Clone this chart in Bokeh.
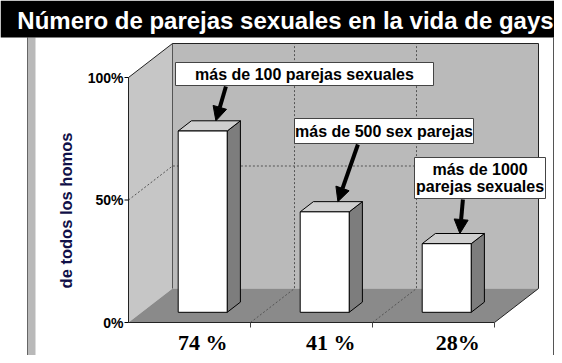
import math
from bokeh.plotting import figure
from bokeh.models import Range1d, Arrow, NormalHead
from bokeh.core.properties import value
from bokeh.embed import file_html
from bokeh.resources import INLINE

# ---------------- data ----------------
TITLE = "Número de parejas sexuales en la vida de gays"
Y_LABEL = "de todos los homos"
categories = ["74 %", "41 %", "28%"]
values = [74, 41, 28]
y_ticks = [0, 50, 100]
y_tick_labels = ["0%", "50%", "100%"]
notes = ["más de 100 parejas sexuales", "más de 500 sex parejas", "más de 1000\nparejas sexuales"]

# ---------------- layout (pixels) ----------------
W, H = 554, 355
OX, OY = 128, 322          # px of front-left floor corner
PX_CAT = 122               # px per category
PX_PCT = 2.45              # px per percent
DEPTH_PX = (44, 34)
BAR_W_PX = 49
BAR_DEPTH = (0.3, 0.6)
NOTE_BOXES = [(175, 62, 433, 85), (294, 118, 473, 143), (414, 157, 545, 198)]
ARROW_DX = [10, 20, 3]
CAT_LABEL_DX = [0, 6, 11]
FONT = value("Liberation Sans")
SERIF = value("Liberation Serif")


def X(wx):
    return (wx - OX) / PX_CAT


def Y(wy):
    return (OY - wy) / PX_PCT


dX = DEPTH_PX[0] / PX_CAT
dY = DEPTH_PX[1] / PX_PCT
n = len(categories)
ymax = max(y_ticks)

p = figure(width=W, height=H, x_range=Range1d(X(0), X(W)), y_range=Range1d(Y(H), Y(0)),
           output_backend="svg", toolbar_location=None, min_border=0)
p.axis.visible = False
p.grid.visible = False
p.outline_line_color = None
p.background_fill_color = "white"
p.border_fill_color = "white"

# outer frame
p.quad(left=[X(27)], right=[X(35)], top=[Y(37)], bottom=[Y(360)], fill_color="#b9b9b9", line_color=None)
p.segment(x0=[X(27)], y0=[Y(37)], x1=[X(27)], y1=[Y(360)], line_color="#666666", line_width=1)
p.segment(x0=[X(553)], y0=[Y(37)], x1=[X(553)], y1=[Y(360)], line_color="#555555", line_width=1)
p.segment(x0=[X(27)], y0=[Y(360)], x1=[X(553)], y1=[Y(360)], line_color="#555555", line_width=1)

# title bar
p.quad(left=[X(0)], right=[X(W)], top=[Y(0)], bottom=[Y(37)], fill_color="black", line_color=None)
p.text(x=[X(285)], y=[Y(20)], text=[TITLE], text_color="white", text_font=FONT, text_font_style="bold",
       text_font_size="24px", text_align="center", text_baseline="middle")

# walls & floor
p.patch([0, 0, dX, dX], [0, ymax, ymax + dY, dY], fill_color="#c6c6c6", line_color=None)
p.patch([dX, n + dX, n + dX, dX], [dY, dY, ymax + dY, ymax + dY], fill_color="#bababa", line_color=None)
p.patch([0, n, n + dX, dX], [0, 0, dY, dY], fill_color="#8a8a8a", line_color=None)

# grid lines
for t in y_ticks[1:-1]:
    p.line([0, dX, n + dX], [t, t + dY, t + dY], line_color="#555555", line_width=1, line_dash="2 2")
for i in range(1, n):
    p.line([i, i + dX, i + dX], [0, dY, ymax + dY], line_color="#555555", line_width=1, line_dash="2 2")
p.line([dX, dX], [dY, ymax + dY], line_color="#555555", line_width=1)

# edges
p.line([0, 0, dX, n + dX, n + dX, n, 0], [0, ymax, ymax + dY, ymax + dY, dY, 0, 0],
       line_color="#222222", line_width=1)

# axis ticks & labels
tick_len = 4 / PX_CAT
p.segment(x0=[-tick_len] * len(y_ticks), y0=y_ticks, x1=[0] * len(y_ticks), y1=y_ticks, line_color="black")
p.text(x=[X(123)] * len(y_ticks), y=y_ticks, text=y_tick_labels, text_font=FONT, text_font_style="bold",
       text_font_size="14px", text_align="right", text_baseline="middle", text_color="black")
cat_ticks = list(range(1, n + 1))
p.segment(x0=cat_ticks, y0=[0] * n, x1=cat_ticks, y1=[-5 / PX_PCT] * n, line_color="#444444")

# bars
f0, f1 = BAR_DEPTH
bw = BAR_W_PX / PX_CAT
ddx, ddy = (f1 - f0) * dX, (f1 - f0) * dY
front_l, front_r, front_b, front_t = [], [], [], []
side_xs, side_ys, top_xs, top_ys = [], [], [], []
tips = []
for i, v in enumerate(values):
    c = i + 0.5
    xl = c - bw / 2 + f0 * dX
    xr = xl + bw
    yb = f0 * dY
    yt = v + f0 * dY
    front_l.append(xl); front_r.append(xr); front_b.append(yb); front_t.append(yt)
    side_xs.append([xr, xr, xr + ddx, xr + ddx]); side_ys.append([yb, yt, yt + ddy, yb + ddy])
    top_xs.append([xl, xr, xr + ddx, xl + ddx]); top_ys.append([yt, yt, yt + ddy, yt + ddy])
    tips.append((c + f1 * dX, v + f1 * dY))

p.patches(side_xs, side_ys, fill_color="#7d7d7d", line_color="black", line_width=1)
p.patches(top_xs, top_ys, fill_color="#cfcfcf", line_color="black", line_width=1)
p.quad(left=front_l, right=front_r, bottom=front_b, top=front_t, fill_color="white", line_color="black", line_width=1)

# category labels
cat_x = [(front_l[i] + front_r[i]) / 2 + CAT_LABEL_DX[i] / PX_CAT for i in range(n)]
p.text(x=cat_x, y=[Y(342)] * n, text=categories, text_font=SERIF, text_font_style="bold",
       text_font_size="22px", text_align="center", text_baseline="middle", text_color="black")

# y axis title
p.text(x=[X(65)], y=[Y(210)], text=[Y_LABEL], angle=math.pi / 2, text_font=FONT, text_font_style="bold",
       text_font_size="16.5px", text_align="center", text_baseline="middle", text_color="#101048")

# annotation boxes, texts and arrows
for i, (note, box) in enumerate(zip(notes, NOTE_BOXES)):
    l, t, r, b = box
    p.quad(left=[X(l)], right=[X(r)], top=[Y(t)], bottom=[Y(b)], fill_color="white", line_color="#444444",
           line_width=1)
    lines = note.split("\n")
    cy = (t + b) / 2
    lh = 17
    for k, ln in enumerate(lines):
        yy = cy + (k - (len(lines) - 1) / 2) * lh
        p.text(x=[X((l + r) / 2)], y=[Y(yy)], text=[ln], text_font=FONT, text_font_style="bold",
               text_font_size="16px", text_align="center", text_baseline="middle", text_color="black")
    tx, ty = tips[i]
    p.add_layout(Arrow(end=NormalHead(size=14, fill_color="black", line_color="black"),
                       x_start=tx + ARROW_DX[i] / PX_CAT, y_start=Y(b + 1), x_end=tx, y_end=ty,
                       line_color="black", line_width=4))

open("out.html", "w").write(file_html(p, INLINE))
